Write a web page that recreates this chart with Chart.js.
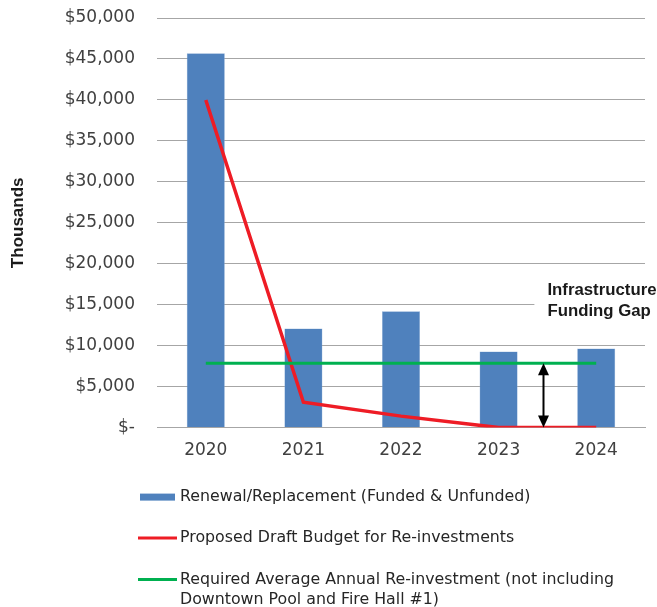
<!DOCTYPE html>
<html>
<head>
<meta charset="utf-8">
<script src="https://cdn.jsdelivr.net/npm/chart.js@4"></script>
<style>
  html, body { margin: 0; padding: 0; background: #fff; }
  #wrap { width: 657px; height: 607px; position: relative; }
</style>
</head>
<body>
<div id="wrap"><canvas id="grafico"></canvas></div>
<script>
// anos e valores (milhares de $)
const anos = ["2020", "2021", "2022", "2023", "2024"];
const renovacao = [45700, 12100, 14200, 9300, 9650];
const orcamentoProposto = [40000, 3100, 1400, 0, 0];
const reinvestimentoMedio = [7850, 7850, 7850, 7850, 7850];

const yTicks = [0, 5000, 10000, 15000, 20000, 25000, 30000, 35000, 40000, 45000, 50000];

const legendas = [
  { tipo: "bar", cor: "#4f81bd", texto: ["Renewal/Replacement (Funded & Unfunded)"] },
  { tipo: "line", cor: "#ee1c25", texto: ["Proposed Draft Budget for Re-investments"] },
  { tipo: "line", cor: "#00b050", texto: ["Required Average Annual Re-investment (not including", "Downtown Pool and Fire Hall #1)"] },
];

// seta do "gap" entre 2023 e 2024, e o texto acima dela
const gapPosicao = 3.46;
const gapTopo = 7850;
const gapTexto = ["Infrastructure", "Funding Gap"];
const gapTextoPos = { x: 3.5, y: 16700 };

const fonteTick = "DejaVu Sans";

const extras = {
  id: "extras",
  afterDatasetsDraw(chart) {
    const { ctx, scales } = chart;
    const x = scales.x, y = scales.y;

    // seta dupla
    const ax = x.getPixelForValue(gapPosicao);
    const y1 = y.getPixelForValue(gapTopo);
    const y2 = y.getPixelForValue(0);
    ctx.save();
    ctx.strokeStyle = "#000";
    ctx.fillStyle = "#000";
    ctx.lineWidth = 2;
    ctx.beginPath();
    ctx.moveTo(ax, y1 + 6);
    ctx.lineTo(ax, y2 - 6);
    ctx.stroke();
    const cab = (py, dir) => {
      ctx.beginPath();
      ctx.moveTo(ax, py);
      ctx.lineTo(ax - 5.5, py + dir * 12);
      ctx.lineTo(ax + 5.5, py + dir * 12);
      ctx.closePath();
      ctx.fill();
    };
    cab(y1, 1);
    cab(y2, -1);

    // texto com fundo branco
    const tx = x.getPixelForValue(gapTextoPos.x);
    const ty = y.getPixelForValue(gapTextoPos.y);
    ctx.font = "bold 16.8px 'Liberation Sans'";
    ctx.fillStyle = "#fff";
    ctx.fillRect(tx - 13, ty - 12, chart.width - tx + 13, 44);
    ctx.fillStyle = "#1a1a1a";
    ctx.textBaseline = "middle";
    ctx.textAlign = "left";
    gapTexto.forEach((t, i) => ctx.fillText(t, tx, ty + i * 21));
    ctx.restore();
  },
  afterDraw(chart) {
    // legenda embaixo do gráfico
    const { ctx } = chart;
    const base = chart.chartArea.bottom + 69;
    ctx.save();
    ctx.font = "15.8px " + fonteTick;
    ctx.textBaseline = "middle";
    ctx.textAlign = "left";
    legendas.forEach((l, i) => {
      const ly = base + i * 41.5;
      if (l.tipo === "bar") {
        ctx.fillStyle = l.cor;
        ctx.fillRect(140, ly - 3, 35, 7);
      } else {
        ctx.strokeStyle = l.cor;
        ctx.lineWidth = 3;
        ctx.beginPath();
        ctx.moveTo(138, ly);
        ctx.lineTo(177, ly);
        ctx.stroke();
      }
      ctx.fillStyle = "#262626";
      l.texto.forEach((t, j) => ctx.fillText(t, 180, ly + j * 20));
    });
    ctx.restore();
  },
};

new Chart(document.getElementById("grafico").getContext("2d"), {
  data: {
    labels: anos,
    datasets: [
      {
        type: "line",
        label: "Required Average Annual Re-investment",
        data: reinvestimentoMedio,
        borderColor: "#00b050",
        borderWidth: 3,
        pointRadius: 0,
        order: 0,
      },
      {
        type: "line",
        label: "Proposed Draft Budget for Re-investments",
        data: orcamentoProposto,
        borderColor: "#ee1c25",
        borderWidth: 3.5,
        pointRadius: 0,
        order: 1,
      },
      {
        type: "bar",
        label: "Renewal/Replacement (Funded & Unfunded)",
        data: renovacao,
        backgroundColor: "#4f81bd",
        borderColor: "#8fb0d8",
        borderWidth: 0.5,
        barPercentage: 0.39,
        categoryPercentage: 1,
        order: 2,
      },
    ],
  },
  options: {
    responsive: true,
    maintainAspectRatio: false,
    animation: false,
    layout: { padding: { top: 18, right: 12, bottom: 141, left: 0 } },
    plugins: { legend: { display: false }, tooltip: { enabled: false } },
    scales: {
      x: {
        grid: { display: false },
        border: { color: "#a6a6a6", width: 1 },
        ticks: { color: "#404040", font: { family: fonteTick, size: 17 }, padding: 5 },
      },
      y: {
        min: 0,
        max: 50000,
        afterBuildTicks: (s) => { s.ticks = yTicks.map((v) => ({ value: v })); },
        afterFit: (s) => {
          s.width = 157;
          s.paddingTop = 0;
          s.paddingBottom = 0;
        },
        grid: { color: "#a6a6a6", drawTicks: false },
        border: { display: false },
        ticks: {
          color: "#404040",
          font: { family: fonteTick, size: 17 },
          padding: 22,
          callback: (v) => (v === 0 ? "$-" : "$" + v.toLocaleString("en-US")),
        },
        title: {
          display: true,
          text: "Thousands",
          color: "#1a1a1a",
          font: { family: "Liberation Sans", size: 17, weight: "bold" },
          padding: { top: 8, bottom: 0 },
        },
      },
    },
  },
  plugins: [extras],
});
</script>
</body>
</html>
